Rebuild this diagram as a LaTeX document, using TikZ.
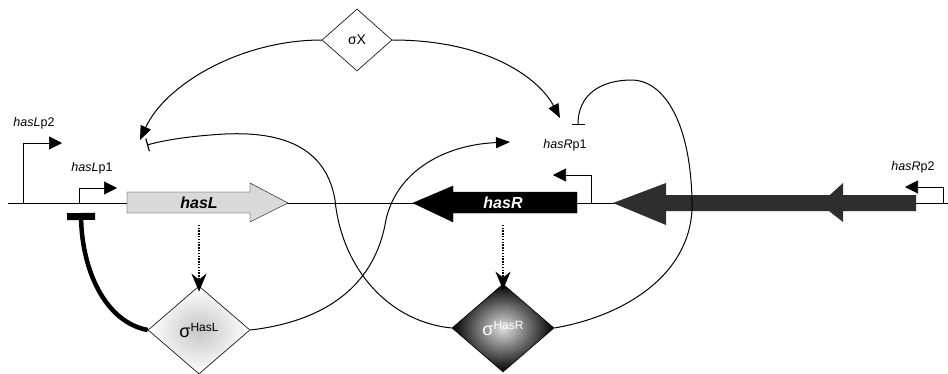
\documentclass[tikz,border=0pt]{standalone}
\usepackage{fontspec}
\setmainfont{Liberation Sans}
\usetikzlibrary{arrows.meta, positioning, shapes.geometric}

\newcommand{\sigfactor}[1]{{\fontsize{18}{20}\selectfont σ}\raisebox{6pt}{\fontsize{12}{14}\selectfont #1}}

\begin{document}
\begin{tikzpicture}[
  x=1pt, y=-1pt,
  sigmabox/.style={diamond, draw, semithick, inner sep=0pt},
  promoter/.style={semithick, -{Triangle[length=13pt, width=13pt]}},
  act/.style={line width=1pt, -{Triangle[length=14pt, width=11pt]}},
  rep/.style={line width=1pt, -{Bar[width=13pt, line width=1.2pt]}},
  express/.style={line width=2.2pt, dash pattern=on 1.4pt off 1.4pt, -{Stealth[length=18pt, width=15pt]}},
  lbl/.style={font=\fontsize{12.5}{14}\selectfont, inner sep=0pt},
  genetext/.style={font=\fontsize{16}{18}\selectfont\bfseries\itshape, inner sep=0pt, minimum height=21pt}
]
\useasboundingbox (0,0) rectangle (948,373);

\draw[semithick] (8,203) -- (948,203);

\filldraw[fill=gray!30, draw=black, thin] (127,192) -- (250,192) -- (250,183) -- (288,203) -- (250,222) -- (250,213) -- (127,213) -- cycle;
\filldraw[black] (577,192) -- (453,192) -- (453,186) -- (413,203) -- (453,222) -- (453,213) -- (577,213) -- cycle;
\fill[black!82] (916,195) -- (666,195) -- (666,183) -- (613,203) -- (666,225) -- (666,211) -- (916,211) -- cycle;
\fill[black!82] (843,183) -- (820,204) -- (843,222) -- cycle;

\node[genetext] (hasL) at (199,203) {hasL};
\node[genetext, text=white] (hasR) at (503,203) {hasR};

\draw[promoter] (23,203) -- (23,143) -- (62,143);
\draw[promoter] (79,203) -- (79,188) -- (117,188);
\draw[promoter] (591,203) -- (591,175) -- (553,175);
\draw[promoter] (943,203) -- (943,187) -- (905,187);

\node[lbl] (lp2) at (34,123) {\textit{hasL}p2};
\node[lbl] (lp1) at (92,168) {\textit{hasL}p1};
\node[lbl] (rp1) at (565,145) {\textit{hasR}p1};
\node[lbl] (rp2) at (913,167) {\textit{hasR}p2};

\node[sigmabox, fill=white, minimum width=70pt, minimum height=62pt, font=\fontsize{14}{16}\selectfont] (sigX) at (357,40) {σX};
\node[sigmabox, minimum width=102pt, minimum height=88pt, shading=radial, inner color=gray!45, outer color=white] (sigL) at (199,330) {\sigfactor{HasL}};
\node[sigmabox, minimum width=102pt, minimum height=88pt, shading=radial, inner color=gray!25, outer color=black, text=white] (sigR) at (503,328) {\sigfactor{HasR}};

\coordinate (lp1act) at (140,140);
\coordinate (lp1rep) at (147,145);
\coordinate (lp1blk) at (81,213);
\coordinate (rp1act) at (510,142);
\coordinate (rp1sig) at (560,118);
\coordinate (rp1rep) at (578,125);

\draw[express] ([yshift=-11pt]hasL.south) -- ([yshift=-6pt]sigL.north);
\draw[express] ([yshift=-11pt]hasR.south) -- ([yshift=-6pt]sigR.north);

\draw[act] (sigX.west) .. controls (240,40) and (165,85) .. (lp1act);
\draw[act] (sigX.east) .. controls (490,40) and (540,80) .. (rp1sig);
\draw[rep] (sigR.west) .. controls (390,322) and (342,270) .. (335,200) .. controls (325,140) and (270,132) .. (225,134) .. controls (190,136) and (165,140) .. (lp1rep);
\draw[act] (sigL.east) .. controls (320,322) and (372,290) .. (385,225) .. controls (393,175) and (440,145) .. (rp1act);
\draw[rep] (sigR.east) .. controls (630,315) and (695,270) .. (692,200) .. controls (690,115) and (660,80) .. (632,80) .. controls (600,80) and (578,95) .. (rp1rep);
\draw[line width=4.5pt, -{Bar[width=28pt, line width=7pt]}] (sigL.west) .. controls (105,322) and (82,270) .. (lp1blk);
\end{tikzpicture}
\end{document}
